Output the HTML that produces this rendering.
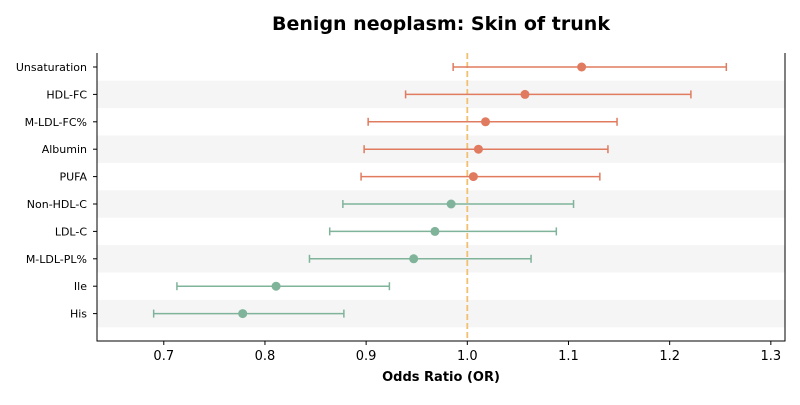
<!DOCTYPE html>
<html><head><meta charset="utf-8"><style>
body{margin:0;background:#fff;}
svg text{font-family:"DejaVu Sans","Liberation Sans",sans-serif;}
</style></head><body>
<svg id="chart" width="800" height="400" xmlns="http://www.w3.org/2000/svg">
<text x="441" y="30" text-anchor="middle" font-size="19" font-weight="bold" fill="#000">Benign neoplasm: Skin of trunk</text>
<g id="bands"></g>
<g id="marks"></g>
<g id="axes"></g>
<text x="441" y="381" text-anchor="middle" font-size="13" font-weight="bold">Odds Ratio (OR)</text>
</svg>
<script>
const labels=["Unsaturation","HDL-FC","M-LDL-FC%","Albumin","PUFA","Non-HDL-C","LDL-C","M-LDL-PL%","Ile","His"];
const orValues=[1.113,1.057,1.018,1.011,1.006,0.984,0.968,0.947,0.811,0.778];
const ciLow=[0.986,0.939,0.902,0.898,0.895,0.877,0.864,0.844,0.713,0.690];
const ciHigh=[1.256,1.221,1.148,1.139,1.131,1.105,1.088,1.063,0.923,0.878];
const xTicks=[0.7,0.8,0.9,1.0,1.1,1.2,1.3];
const ns="http://www.w3.org/2000/svg";
const L=97,R=785,T=53,B=341,xmin=0.634,xmax=1.314;
const X=v=>L+(v-xmin)/(xmax-xmin)*(R-L);
const step=27.4;
const Y=i=>67+i*step;
function mk(tag,attrs,parent){const e=document.createElementNS(ns,tag);for(const k in attrs)e.setAttribute(k,attrs[k]);document.getElementById(parent).appendChild(e);return e;}
labels.forEach((lab,i)=>{
 if(i%2===1){const b=mk('rect',{x:L,y:Y(i)-step/2,width:R-L,height:step,fill:'#f5f5f5'},'bands');
 
 }
});
const ref=mk('line',{x1:X(1),x2:X(1),y1:T,y2:B,stroke:'#f0c070','stroke-width':1.8,'stroke-dasharray':'6,3'},'marks');


labels.forEach((lab,i)=>{
 const c=orValues[i]>=1?'#e07b5f':'#7fb39a';
 const y=Y(i);
 const g=mk('g',{},'marks');
 
 
 const add=(t,a)=>{const e=document.createElementNS(ns,t);for(const k in a)e.setAttribute(k,a[k]);g.appendChild(e);return e;};
 add('line',{x1:X(ciLow[i]),x2:X(ciHigh[i]),y1:y,y2:y,stroke:c,'stroke-width':1.5});
 add('line',{x1:X(ciLow[i]),x2:X(ciLow[i]),y1:y-4,y2:y+4,stroke:c,'stroke-width':1.5});
 add('line',{x1:X(ciHigh[i]),x2:X(ciHigh[i]),y1:y-4,y2:y+4,stroke:c,'stroke-width':1.5});
 add('circle',{cx:X(orValues[i]),cy:y,r:4.5,fill:c});
 const t=mk('text',{x:L-10,y:y+4,'text-anchor':'end','font-size':11},'axes');t.textContent=lab;
 
 
 mk('line',{x1:L-4,x2:L,y1:y,y2:y,stroke:'#000'},'axes');
});
const sp=mk('path',{d:`M${L},${T} V${B} H${R} V${T}`,fill:'none',stroke:'#000','stroke-width':1},'axes');


xTicks.forEach(v=>{
 mk('line',{x1:X(v),x2:X(v),y1:B,y2:B+4,stroke:'#000'},'axes');
 const t=mk('text',{x:X(v),y:B+19,'text-anchor':'middle','font-size':13},'axes');t.textContent=v.toFixed(1);
 
 
});
</script>
</body></html>
